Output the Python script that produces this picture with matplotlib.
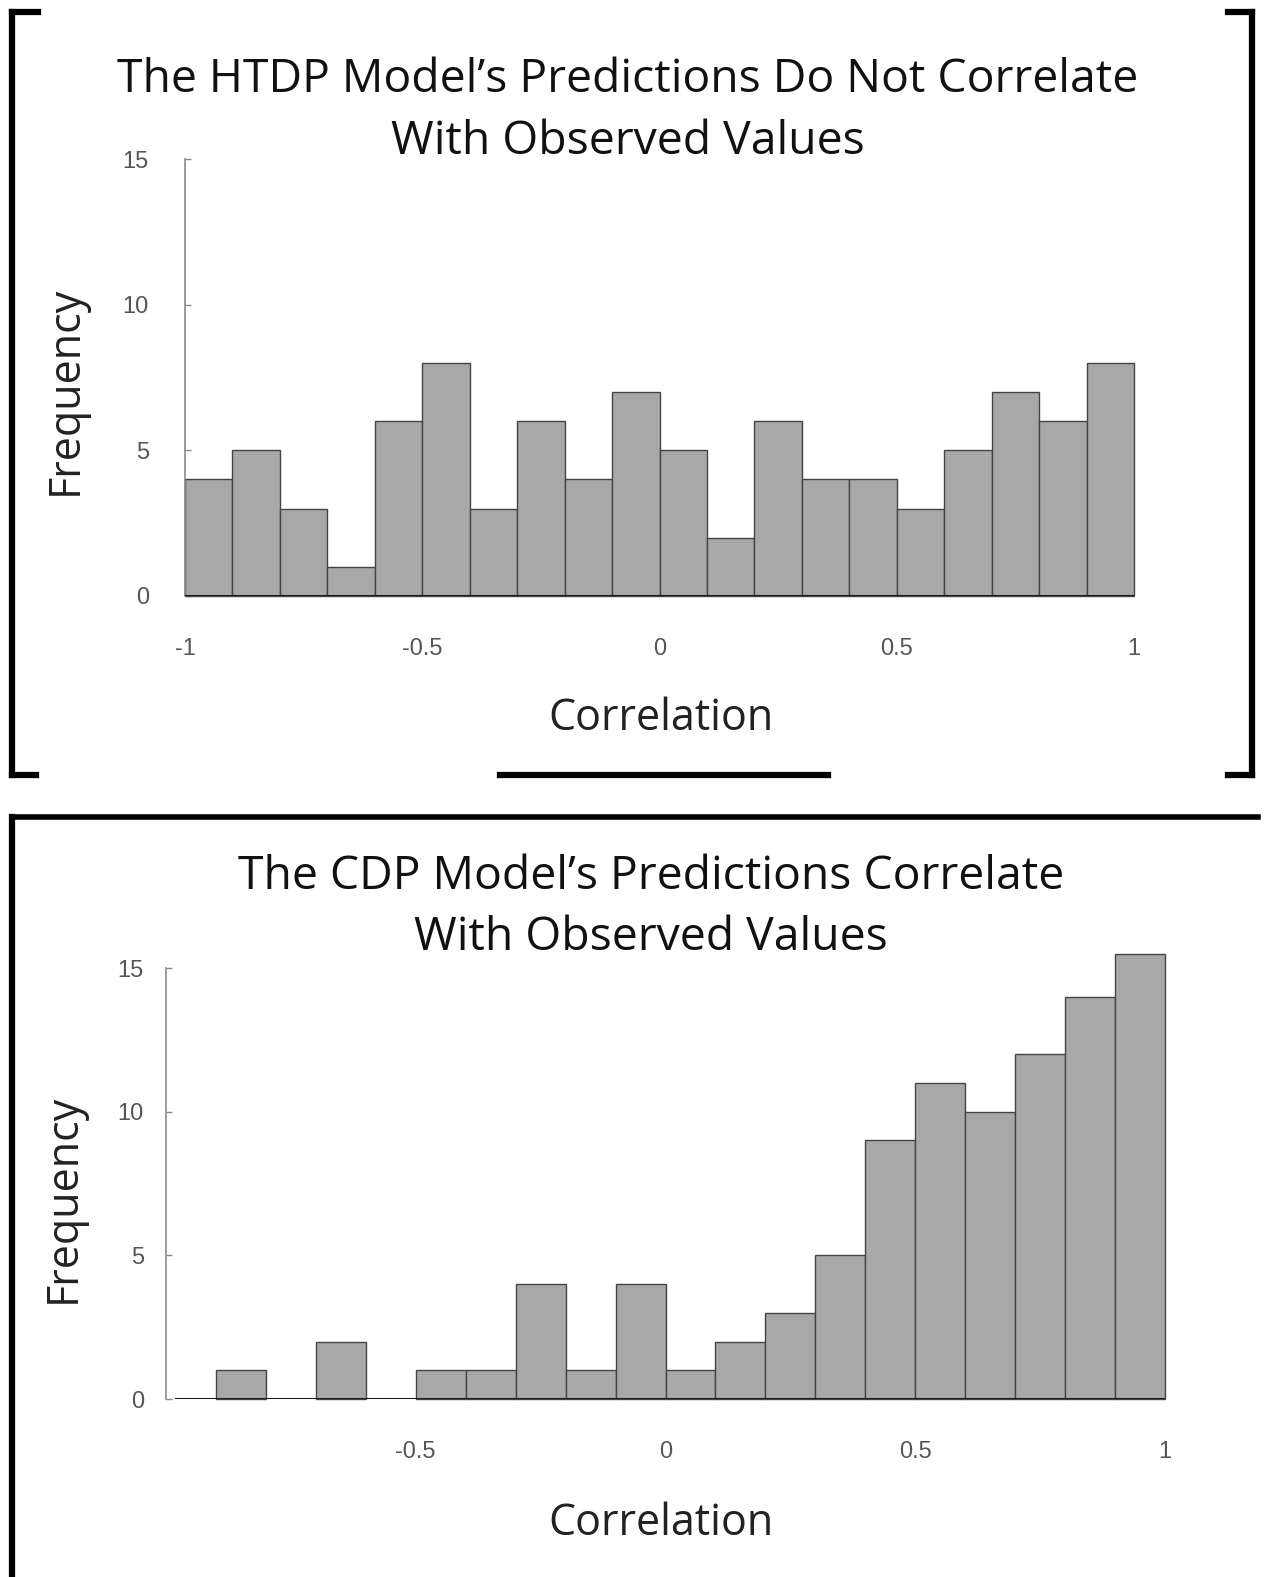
import numpy as np
import matplotlib
matplotlib.use("Agg")
import matplotlib.pyplot as plt
from matplotlib.lines import Line2D

# histogram counts, bins of width 0.1 from -1 to 1
bin_edges = np.linspace(-1, 1, 21)
htdp_counts = [4, 5, 3, 1, 6, 8, 3, 6, 4, 7, 5, 2, 6, 4, 4, 3, 5, 7, 6, 8]
cdp_counts = [0, 1, 0, 2, 0, 1, 1, 4, 1, 4, 1, 2, 3, 5, 9, 11, 10, 12, 14, 15.5]

yticks = [0, 5, 10, 15]
xticks_top = [-1, -0.5, 0, 0.5, 1]
xlabels_top = ["-1", "-0.5", "0", "0.5", "1"]
xticks_bot = [-0.5, 0, 0.5, 1]
xlabels_bot = ["-0.5", "0", "0.5", "1"]

title_top = ["The HTDP Model\u2019s Predictions Do Not Correlate", "With Observed Values"]
title_bot = ["The CDP Model\u2019s Predictions Correlate", "With Observed Values"]

W, H = 1264, 1577
fig = plt.figure(figsize=(W / 100, H / 100), dpi=100)
fig.patch.set_facecolor("white")

tick_font = ["Liberation Sans Narrow", "Liberation Sans", "DejaVu Sans"]
label_font = ["Open Sans", "DejaVu Sans"]
bar_color = "#a8a8a8"
edge_color = "#444444"


def px(x0, y0, x1, y1):
    return [x0 / W, (H - y1) / H, (x1 - x0) / W, (y1 - y0) / H]


def draw_hist(ax, counts, xticks, xlabels, ypad, base_start):
    lefts = [e for e, c in zip(bin_edges[:-1], counts) if c > 0]
    heights = [c for c in counts if c > 0]
    ax.bar(lefts, heights, width=0.1, align="edge", color=bar_color,
           edgecolor=edge_color, linewidth=1.0, zorder=2, clip_on=False)
    ax.set_xlim(-1, 1)
    ax.set_ylim(0, 15)
    for s in ["top", "right", "bottom"]:
        ax.spines[s].set_visible(False)
    ax.spines["left"].set_color("#8a8a8a")
    ax.spines["left"].set_linewidth(1.2)
    ax.axhline(0, xmin=base_start, xmax=1, color="#1a1a1a", linewidth=2.2, zorder=3)
    ax.set_yticks(yticks)
    ax.set_yticklabels([str(t) for t in yticks], family=tick_font, fontsize=17, color="#555555")
    ax.tick_params(axis="y", direction="in", length=4, width=1, color="#8a8a8a", pad=ypad)
    ax.set_xticks(xticks)
    ax.set_xticklabels(xlabels, family=tick_font, fontsize=17, color="#555555")
    ax.tick_params(axis="x", length=0, pad=30)


ax1 = fig.add_axes(px(185, 159, 1134, 596))
draw_hist(ax1, htdp_counts, xticks_top, xlabels_top, ypad=26, base_start=0)
ax1.set_ylabel("Frequency", family=label_font, fontsize=31, color="#222222")
ax1.yaxis.set_label_coords(-0.103, 0.47)
ax1.set_xlabel("Correlation", family=label_font, fontsize=31, color="#222222")
ax1.xaxis.set_label_coords(0.5016, -0.229)

ax2 = fig.add_axes(px(166, 968, 1165, 1399))
draw_hist(ax2, cdp_counts, xticks_bot, xlabels_bot, ypad=16, base_start=0.01)
ax2.set_ylabel("Frequency", family=label_font, fontsize=31, color="#222222")
ax2.yaxis.set_label_coords(-0.080, 0.465)
ax2.set_xlabel("Correlation", family=label_font, fontsize=31, color="#222222")
ax2.xaxis.set_label_coords(0.4955, -0.238)

# two-line titles, one text per line
for line, xc, yb in zip(title_top, [628, 628], [92.5, 153.5]):
    fig.text(xc / W, 1 - yb / H, line, ha="center", va="baseline",
             family=label_font, fontsize=33.3, color="#111111")
for line, xc, yb in zip(title_bot, [651, 651], [889, 950]):
    fig.text(xc / W, 1 - yb / H, line, ha="center", va="baseline",
             family=label_font, fontsize=33.3, color="#111111")


def seg(x0, y0, x1, y1, lw):
    fig.add_artist(Line2D([x0 / W, x1 / W], [1 - y0 / H, 1 - y1 / H],
                          transform=fig.transFigure, color="black",
                          linewidth=lw, solid_capstyle="projecting"))


# brackets around the top panel
seg(12, 12, 12, 775, 4.5)
seg(12, 12, 38, 12, 4.5)
seg(12, 775, 36, 775, 4.5)
seg(1252, 12, 1252, 775, 4.5)
seg(1228, 12, 1252, 12, 4.5)
seg(1228, 775, 1252, 775, 4.5)
seg(500, 775, 828, 775, 4.5)
# frame of the bottom panel
seg(12, 817, 1258, 817, 4)
seg(12, 817, 12, 1580, 4.5)

fig.savefig("out.png", dpi=100, facecolor="white")
